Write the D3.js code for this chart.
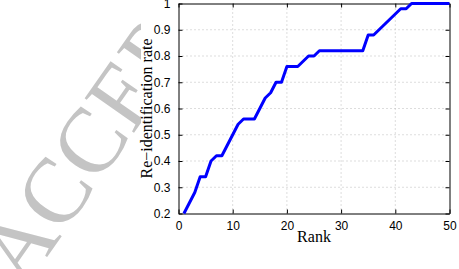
<!DOCTYPE html>
<html>
<head>
<meta charset="utf-8">
<script src="https://cdn.jsdelivr.net/npm/d3@7"></script>
<style>
  body { margin: 0; background: #fff; }
  svg { display: block; }
</style>
</head>
<body>
<div class="chart"></div>
<script>
// Data
const ranks = d3.range(1, 51)
const rates = [
  0.20, 0.24, 0.28, 0.34, 0.34, 0.40, 0.42, 0.42, 0.46, 0.50,
  0.54, 0.56, 0.56, 0.56, 0.60, 0.64, 0.66, 0.70, 0.70, 0.76,
  0.76, 0.76, 0.78, 0.80, 0.80, 0.82, 0.82, 0.82, 0.82, 0.82,
  0.82, 0.82, 0.82, 0.82, 0.88, 0.88, 0.90, 0.92, 0.94, 0.96,
  0.98, 0.98, 1.00, 1.00, 1.00, 1.00, 1.00, 1.00, 1.00, 1.00
]
const xTicks = [0, 10, 20, 30, 40, 50]
const yTicks = [0.2, 0.3, 0.4, 0.5, 0.6, 0.7, 0.8, 0.9, 1]
const xLabel = "Rank"
const yLabel = "Re\u2212identification rate"
const watermark = "ACCEPTED"

const width = 459
const height = 269
const margin = { left: 178.5, right: 9.5, top: 3.5, bottom: 55.5 }

const svg = d3.select(".chart")
  .append("svg")
  .attr("width", width)
  .attr("height", height)

// watermark behind the figure
svg.append("text")
  .attr("transform", "translate(24,290) rotate(-55)")
  .attr("font-family", "Liberation Serif")
  .attr("font-size", 92)
  .attr("fill", "#c4c4c4")
  .text(watermark)

// the figure itself is an opaque white block
svg.append("rect")
  .attr("x", 141)
  .attr("y", 0)
  .attr("width", width - 141)
  .attr("height", 252)
  .attr("fill", "#fff")

const x = d3.scaleLinear().domain([0, 50]).range([margin.left, width - margin.right])
const y = d3.scaleLinear().domain([0.2, 1]).range([height - margin.bottom, margin.top])

// dotted grid
svg.append("g")
  .selectAll("line")
  .data(xTicks.slice(1, -1))
  .join("line")
    .attr("x1", d => x(d)).attr("x2", d => x(d))
    .attr("y1", y(0.2)).attr("y2", y(1))
    .attr("stroke", "#bbb")
    .attr("stroke-dasharray", "1,3")

svg.append("g")
  .selectAll("line")
  .data(yTicks.slice(1, -1))
  .join("line")
    .attr("x1", x(0)).attr("x2", x(50))
    .attr("y1", d => y(d)).attr("y2", d => y(d))
    .attr("stroke", "#bbb")
    .attr("stroke-dasharray", "1,3")

// axes, ticks pointing inward on all four sides
const fontTick = "Liberation Sans"
svg.append("g")
  .attr("transform", `translate(0,${y(0.2)})`)
  .call(d3.axisBottom(x).tickValues(xTicks).tickSizeInner(-4).tickSizeOuter(0).tickPadding(8))
svg.append("g")
  .attr("transform", `translate(0,${y(1)})`)
  .call(d3.axisTop(x).tickValues(xTicks).tickSizeInner(-4).tickSizeOuter(0).tickFormat(""))
svg.append("g")
  .attr("transform", `translate(${x(0)},0)`)
  .call(d3.axisLeft(y).tickValues(yTicks).tickSizeInner(-4).tickSizeOuter(0).tickPadding(8)
    .tickFormat(d3.format("~g")))
svg.append("g")
  .attr("transform", `translate(${x(50)},0)`)
  .call(d3.axisRight(y).tickValues(yTicks).tickSizeInner(-4).tickSizeOuter(0).tickFormat(""))

svg.selectAll(".domain").attr("stroke", "#000")
svg.selectAll(".tick line").attr("stroke", "#000")
svg.selectAll(".tick text")
  .attr("font-family", fontTick)
  .attr("font-size", 12)
  .attr("fill", "#000")

// the line
const line = d3.line()
  .x((d, i) => x(ranks[i]))
  .y(d => y(d))

svg.append("path")
  .datum(rates)
  .attr("d", line)
  .attr("fill", "none")
  .attr("stroke", "#0000ff")
  .attr("stroke-width", 3)
  .attr("stroke-linejoin", "round")

// axis labels
svg.append("text")
  .attr("x", (x(0) + x(50)) / 2)
  .attr("y", 242)
  .attr("text-anchor", "middle")
  .attr("font-family", "Liberation Serif")
  .attr("font-size", 16)
  .text(xLabel)

svg.append("text")
  .attr("transform", `translate(152,${(y(0.2) + y(1)) / 2}) rotate(-90)`)
  .attr("text-anchor", "middle")
  .attr("font-family", "Liberation Serif")
  .attr("font-size", 16)
  .text(yLabel)
</script>
</body>
</html>
